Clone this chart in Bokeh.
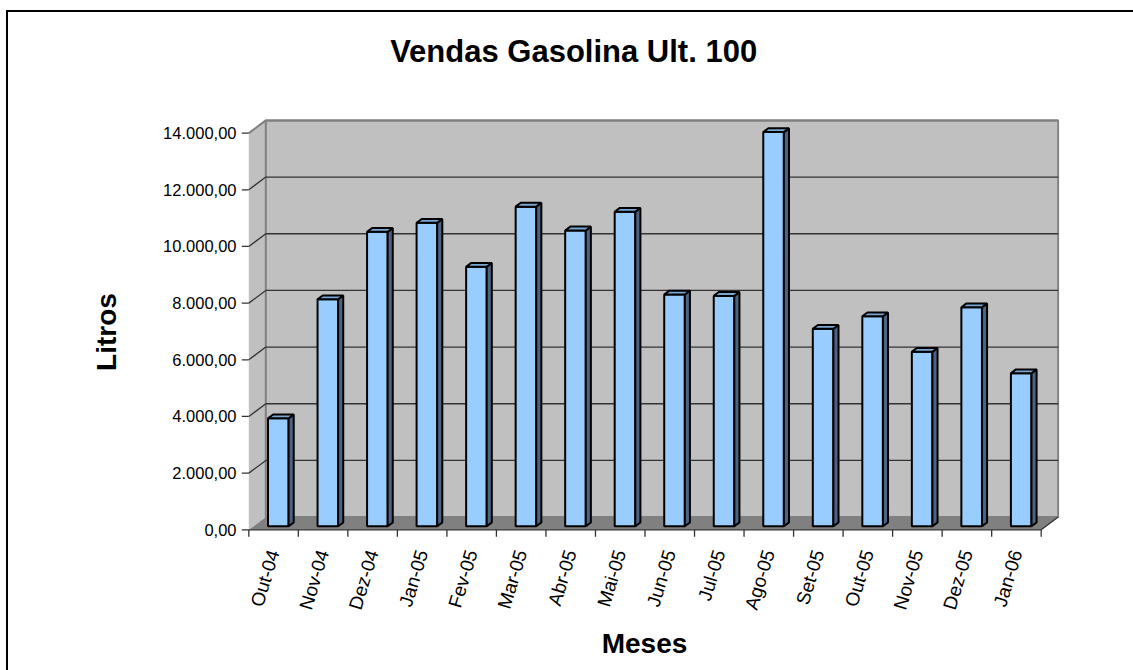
import math
from bokeh.plotting import figure
from bokeh.models import FixedTicker, Range1d
from bokeh.embed import file_html
from bokeh.resources import INLINE

# ---- data ----
months = ["Out-04", "Nov-04", "Dez-04", "Jan-05", "Fev-05", "Mar-05", "Abr-05", "Mai-05",
          "Jun-05", "Jul-05", "Ago-05", "Set-05", "Out-05", "Nov-05", "Dez-05", "Jan-06"]
litros = [3810, 8010, 10390, 10710, 9160, 11280, 10440, 11100,
          8180, 8130, 13910, 6970, 7410, 6160, 7730, 5400]
y_ticks = [0, 2000, 4000, 6000, 8000, 10000, 12000, 14000]
y_tick_labels = ["0,00", "2.000,00", "4.000,00", "6.000,00", "8.000,00",
                 "10.000,00", "12.000,00", "14.000,00"]
title_text = "Vendas Gasolina Ult. 100"
x_title = "Meses"
y_title = "Litros"

# ---- geometry (page pixels -> data) ----
OX, OY = 0, 0                     # canvas origin on the page
W, H = 1133, 670
X0, PXX = 248.3, 49.525          # page x of first category edge, px per category
Y0, PXY = 529.3, 56.67 / 2000.0  # page y of value 0, px per litre

def xd(px):
    return (px - X0) / PXX

def yd(py):
    return (Y0 - py) / PXY

FL, FR, FT, FB = 229, 1059, 75, 588
n = len(months)
ymax = y_ticks[-1]
DX = 17.0 / PXX
DY = 12.7 / PXY
F1, F2 = 0.28, 0.58
HW = 10.3 / PXX
FONT = "Liberation Sans"

p = figure(width=W, height=H, output_backend="svg", toolbar_location=None,
           x_range=Range1d(xd(FL), xd(FR)), y_range=Range1d(yd(FB), yd(FT)),
           min_border_left=FL - OX, min_border_right=W - (FR - OX),
           min_border_top=FT - OY, min_border_bottom=H - (FB - OY))
# chart-area border (left and top edges visible in the reference)
p.styles = {"background": "linear-gradient(#000,#000) 6px 10px / 2px 100% no-repeat, "
                          "linear-gradient(#000,#000) 6px 10px / 100% 2px no-repeat, #ffffff"}
p.xgrid.visible = False
p.ygrid.visible = False
p.outline_line_color = None
p.background_fill_color = "white"
p.border_fill_color = None

# walls and floor
p.patch([0, 0, DX, DX], [0, ymax, ymax + DY, DY], fill_color="#c0c0c0", line_color=None)
p.quad(left=[DX], right=[n + DX], bottom=[DY], top=[ymax + DY],
       fill_color="#c0c0c0", line_color="#808080", line_width=2)
p.patch([0, n, n + DX, DX], [0, 0, DY, DY], fill_color="#808080", line_color=None)
p.line([0, DX, n + DX], [ymax, ymax + DY, ymax + DY], line_color="#808080", line_width=2)

# gridlines
gl = y_ticks[1:-1]
p.segment(x0=[DX] * len(gl), y0=[v + DY for v in gl], x1=[n + DX] * len(gl),
          y1=[v + DY for v in gl], line_color="#333333", line_width=1.3)
p.segment(x0=[0] * len(gl), y0=gl, x1=[DX] * len(gl), y1=[v + DY for v in gl],
          line_color="#333333", line_width=1.3)

# axes lines & ticks
tl_x = 7.0 / PXX
tl_y = 7.0 / PXY
p.segment(x0=[-tl_x] * len(y_ticks), y0=y_ticks, x1=[0] * len(y_ticks), y1=y_ticks,
          line_color="#333333", line_width=1.3)
p.line([0, n, n + DX], [0, 0, DY], line_color="#333333", line_width=1.3)
p.segment(x0=list(range(n + 1)), y0=[0] * (n + 1), x1=list(range(n + 1)),
          y1=[-tl_y] * (n + 1), line_color="#333333", line_width=1.3)

# bars
ddx = (F2 - F1) * DX
fy = F1 * DY
by = F2 * DY
cxs = [i + 0.5 + F1 * DX for i in range(n)]
p.quad(left=[c - HW for c in cxs], right=[c + HW for c in cxs], bottom=[fy] * n,
       top=[v + fy for v in litros], fill_color="#99ccff", line_color="black", line_width=2)
p.patches(xs=[[c + HW, c + HW + ddx, c + HW + ddx, c + HW] for c in cxs],
          ys=[[fy, by, v + by, v + fy] for v in litros],
          fill_color="#4d6382", line_color="black", line_width=2)
p.patches(xs=[[c - HW, c + HW, c + HW + ddx, c - HW + ddx] for c in cxs],
          ys=[[v + fy, v + fy, v + by, v + by] for v in litros],
          fill_color="#7aa6d4", line_color="black", line_width=2)

# y axis
yax = p.yaxis[0]
yax.ticker = FixedTicker(ticks=y_ticks)
yax.major_label_overrides = {t: s for t, s in zip(y_ticks, y_tick_labels)}
yax.major_tick_out = 0
yax.major_tick_in = 0
yax.minor_tick_out = 0
yax.minor_tick_in = 0
yax.axis_line_color = None
yax.major_label_standoff = -7
yax.major_label_text_font = FONT
yax.major_label_text_font_size = "16.5px"
yax.major_label_text_color = "black"
yax.axis_label = y_title
yax.axis_label_text_font = FONT
yax.axis_label_text_font_size = "28px"
yax.axis_label_text_font_style = "bold"
yax.axis_label_text_color = "black"
yax.axis_label_standoff = 38

# x axis
xax = p.xaxis[0]
xt = [i + 0.5 for i in range(n)]
xax.ticker = FixedTicker(ticks=xt)
xax.major_label_overrides = {t: s for t, s in zip(xt, months)}
xax.major_tick_out = 0
xax.major_tick_in = 0
xax.minor_tick_out = 0
xax.minor_tick_in = 0
xax.axis_line_color = None
xax.major_label_orientation = math.radians(73)
xax.major_label_standoff = 550 - FB
xax.major_label_text_font = FONT
xax.major_label_text_font_size = "19px"
xax.major_label_text_color = "black"
xax.axis_label = x_title
xax.axis_label_text_font = FONT
xax.axis_label_text_font_size = "28px"
xax.axis_label_text_font_style = "bold"
xax.axis_label_text_color = "black"
xax.axis_label_standoff = 10

# title
p.title.text = title_text
p.title.align = "left"
p.title.offset = 574 - 11.894 * 31 / 2 - FL
p.title.text_font = FONT
p.title.text_font_size = "31px"
p.title.text_font_style = "bold"
p.title.text_color = "black"
p.title.standoff = 13

open("out.html", "w").write(file_html(p, INLINE))
